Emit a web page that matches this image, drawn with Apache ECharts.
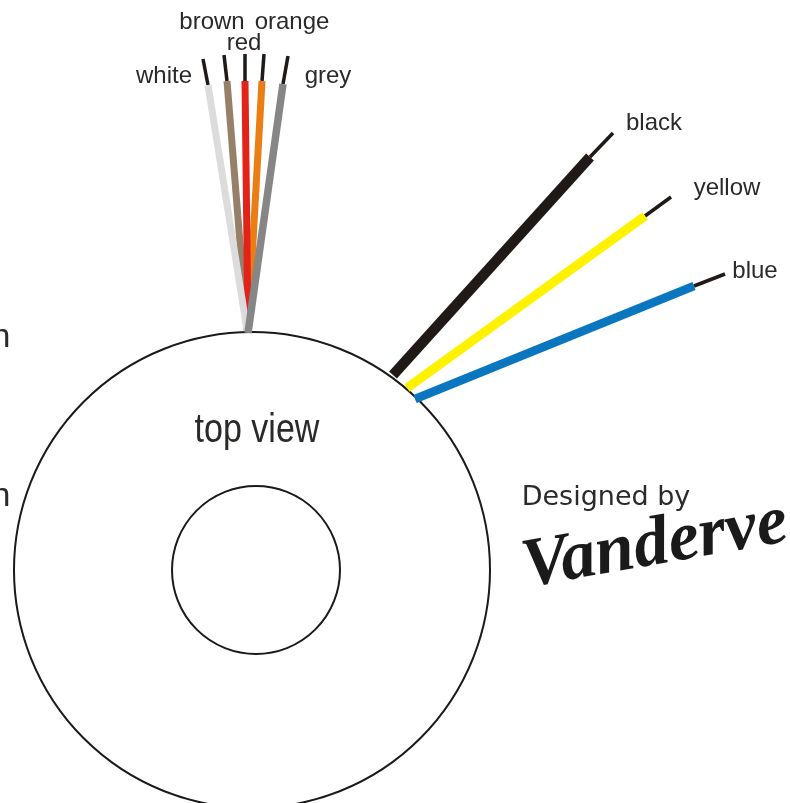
<!DOCTYPE html>
<html>
<head>
<meta charset="utf-8">
<style>
html, body { margin: 0; background: #fff; }
#chart { width: 790px; height: 803px; }
</style>
<script src="https://cdn.jsdelivr.net/npm/echarts@6/dist/echarts.min.js"></script>
</head>
<body>
<div id="chart"></div>
<script>
// wires, in picture units: base at the ring, end of the insulation, tip of the bare lead
const wireNames = ['brown', 'orange', 'red', 'white', 'grey', 'black', 'yellow', 'blue'];
const wireColors = ['#96806a', '#ea7d14', '#e2231a', '#dcdcdc', '#868686', '#1f1a17', '#fff200', '#0a76bf'];
const wireWidths = [7, 7, 7, 7, 7.5, 10.5, 9, 8.5];
const wireBases = [[247, 330], [248, 330], [248, 330], [247, 330], [248, 333], [393, 375], [407, 388], [415, 399]];
const wireEnds = [[227, 81], [262, 81], [245, 81], [208, 85], [283, 84], [590, 157], [645, 216], [694, 286]];
const wireTips = [[224, 55], [264, 54], [245, 54], [203, 59], [288, 56], [613, 133], [671, 197], [725, 274]];

// ring
const ringCenters = [[252, 570], [256, 570]];
const ringRadii = [238, 84];

// text
const labelTexts = ['white', 'brown', 'orange', 'red', 'grey', 'black', 'yellow', 'blue'];
const labelPoints = [[164, 76], [212, 22], [292, 22], [244, 43], [328, 76], [654, 123], [727, 188], [755, 271]];
const strayTexts = ['n', 'n'];
const strayPoints = [[1, 338], [1, 497]];

const chart = echarts.init(document.getElementById('chart'));

const series = [];

series.push({
    type: 'scatter',
    silent: true,
    clip: false,
    z: 1,
    symbol: 'circle',
    symbolSize: (val, params) => ringRadii[params.dataIndex] * 2,
    itemStyle: { color: 'transparent', borderColor: '#1a1a1a', borderWidth: 2, opacity: 1 },
    data: ringCenters
});

// Bare leads first, insulation on top
wireNames.forEach((name, i) => {
    series.push({
        type: 'line',
        name: name + ' lead',
        silent: true,
        symbol: 'none',
        z: 2,
        lineStyle: { color: '#1f1a17', width: 3.5, cap: 'butt' },
        data: [wireEnds[i], wireTips[i]]
    });
    series.push({
        type: 'line',
        name: name,
        silent: true,
        symbol: 'none',
        z: 3,
        lineStyle: { color: wireColors[i], width: wireWidths[i], cap: 'butt' },
        data: [wireBases[i], wireEnds[i]]
    });
});

function textSeries(points, texts, style) {
    return {
        type: 'scatter',
        silent: true,
        symbolSize: 0,
        z: 5,
        itemStyle: { opacity: 1 },
        data: points.map((p, i) => ({ value: p, text: texts[i] })),
        label: Object.assign({
            show: true,
            position: 'inside',
            align: 'center',
            verticalAlign: 'middle',
            opacity: 1,
            formatter: p => p.data.text
        }, style)
    };
}

const labelFont = { fontFamily: 'Liberation Sans', color: '#2b2a29', fontSize: 24 };
series.push(textSeries(labelPoints, labelTexts, labelFont));
series.push(textSeries(strayPoints, strayTexts, { fontFamily: 'Liberation Sans', color: '#2b2a29', fontSize: 34 }));
series.push(textSeries([[606, 498]], ['Designed by'], { fontFamily: 'DejaVu Sans', color: '#2b2a29', fontSize: 27 }));
series.push(textSeries([[655, 546]], ['Vanderve'], {
    fontFamily: 'Liberation Serif',
    fontStyle: 'italic',
    fontWeight: 'bold',
    color: '#1a1a1a',
    fontSize: 70,
    rotate: 10
}));

// The caption is squeezed sideways in the original, labels can't do that
series.push({
    type: 'custom',
    silent: true,
    z: 5,
    data: [[257, 431]],
    renderItem: (params, api) => {
        const pos = api.coord([api.value(0), api.value(1)]);
        return {
            type: 'text',
            x: pos[0],
            y: pos[1],
            scaleX: 0.83,
            style: {
                text: 'top view',
                fontFamily: 'Liberation Sans',
                fontSize: 41,
                fill: '#2b2a29',
                align: 'center',
                verticalAlign: 'middle'
            }
        };
    }
});

const option = {
    animation: false,
    backgroundColor: '#fff',
    grid: { left: 0, right: 0, top: 0, bottom: 0 },
    xAxis: { type: 'value', min: 0, max: 790, show: false },
    yAxis: { type: 'value', min: 0, max: 803, inverse: true, show: false },
    series: series
};
chart.setOption(option);
</script>
</body>
</html>
